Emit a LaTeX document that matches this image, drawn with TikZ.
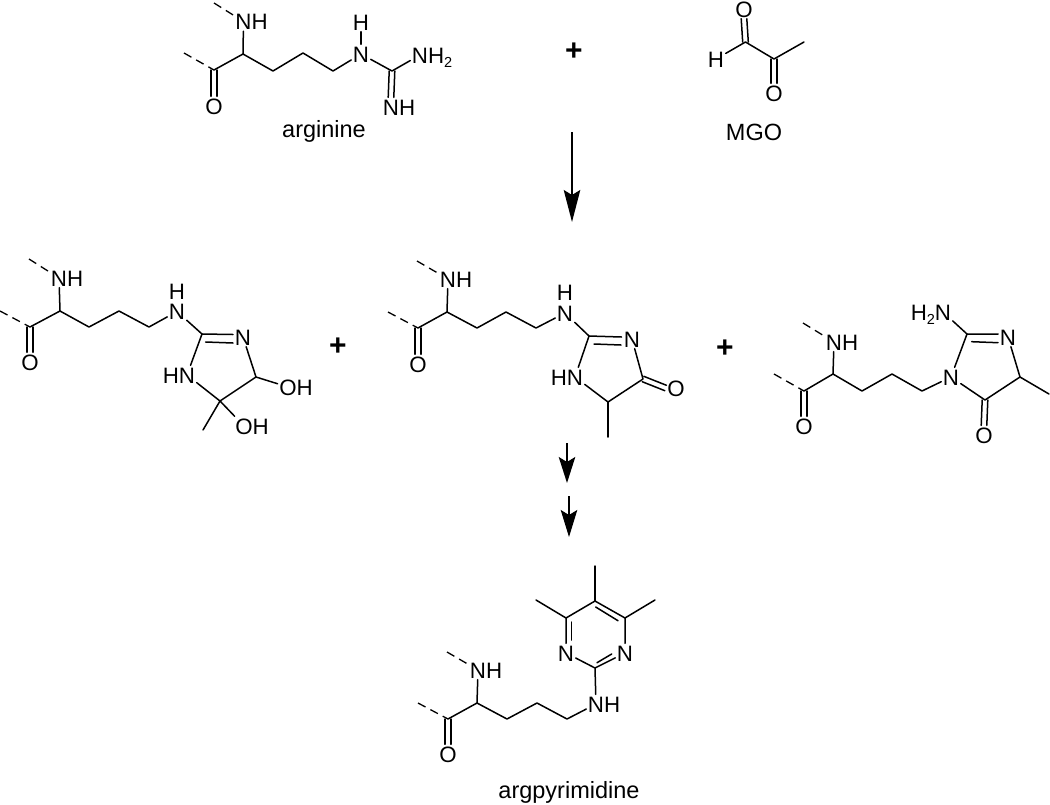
\documentclass[tikz,border=0pt]{standalone}
\usepackage{fontspec}
\setmainfont{Liberation Sans}
\usetikzlibrary{arrows.meta}
\newcommand{\subtwo}{\raisebox{-4.5pt}{\fontsize{14.5}{15}\selectfont 2}}
\tikzset{
  x=1pt,y=-1pt,
  atom/.style={inner sep=1.5pt,font=\fontsize{22.3}{24}\selectfont,text height=16pt,text depth=0pt},
  caption/.style={inner sep=0pt,font=\fontsize{23.5}{26}\selectfont},
  plussign/.style={inner sep=0pt,font=\fontsize{30}{32}\selectfont\bfseries},
  bond/.style={line width=1.5pt,line cap=round,line join=round},
  dashbond/.style={line width=1.3pt,dash pattern=on 8.5pt off 5.5pt},
  rxn/.style={line width=1.6pt,-{Stealth[length=#1,width=16.5pt,inset=5pt]}},
  rxn/.default=32pt
}
\begin{document}
\begin{tikzpicture}
\useasboundingbox (0,0) rectangle (1050,804);
% ---------- arginine
\node[atom] (a1) at (243.5,21.5) {N\rlap{H}};
\coordinate (a0) at (214,3);
\coordinate (aa) at (243,54);
\coordinate (aco) at (214,70);
\node[atom] (ao) at (214,106) {O};
\coordinate (ad) at (184,53);
\coordinate (a2) at (273,71);
\coordinate (a3) at (303,53);
\coordinate (a4) at (333,71);
\node[atom] (an) at (361,54) {N};
\node[atom] (ah) at (361,22) {H};
\coordinate (ag) at (392,71);
\node[atom] (ab) at (420,55) {N\rlap{H\subtwo}};
\node[atom] (ac) at (391,107) {N\rlap{H}};
\draw[dashbond] (a0) -- (a1);
\draw[dashbond] (ad) -- (aco);
\draw[bond] (a1) -- (aa) -- (aco);
\draw[bond] ([shift={(-2.8,0)}]aco) -- ([shift={(-2.8,0)}]ao.north);
\draw[bond] ([shift={(2.8,0)}]aco) -- ([shift={(2.8,0)}]ao.north);
\draw[bond] (aa) -- (a2) -- (a3) -- (a4) -- (an);
\draw[bond] (ah) -- (an);
\draw[bond] (an) -- (ag) -- (ab);
\draw[bond] ([shift={(-2.8,0)}]ag) -- ([shift={(-2.8,0)}]ac.north);
\draw[bond] ([shift={(2.8,0)}]ag) -- ([shift={(2.8,0)}]ac.north);
\node[caption] (argl) at (324,131) {arginine};
\node[plussign] (p0) at (574,52) {+};
% ---------- MGO
\node[atom] (mo1) at (744,9) {O};
\coordinate (mc1) at (745.5,42);
\node[atom] (mh) at (716,59) {H};
\coordinate (mc2) at (774,59);
\node[atom] (mo2) at (774,93) {O};
\coordinate (mc3) at (804,42);
\draw[bond] (mh) -- (mc1) -- (mc2) -- (mc3);
\draw[bond] ([shift={(-2.8,0)}]mc1) -- ([shift={(-2.8,0)}]mo1.south);
\draw[bond] ([shift={(2.8,0)}]mc1) -- ([shift={(2.8,0)}]mo1.south);
\draw[bond] ([shift={(-2.8,0)}]mc2) -- ([shift={(-2.8,0)}]mo2.north);
\draw[bond] ([shift={(2.8,0)}]mc2) -- ([shift={(2.8,0)}]mo2.north);
\node[caption] (mgol) at (754,132) {MGO};
% ---------- arrows
\coordinate (r1s) at (572,132);
\coordinate (r1e) at (572,222);
\draw[rxn] (r1s) -- (r1e);
% ---------- intermediate A
\coordinate (b0) at (29,259);
\node[atom] (b1) at (59,278) {N\rlap{H}};
\coordinate (ba) at (60,311);
\coordinate (bco) at (30,327);
\node[atom] (bo) at (30,362) {O};
\coordinate (bd) at (0,311);
\coordinate (b2) at (89,327);
\coordinate (b3) at (119,311);
\coordinate (b4) at (149,327);
\node[atom] (bn) at (177,311.5) {N};
\node[atom] (bh) at (177,291) {H};
\coordinate (br2) at (202,334);
\node[atom] (br3) at (243,337) {N};
\coordinate (br4) at (256,377);
\coordinate (br5) at (220,401);
\node[atom] (br1) at (187,375) {\llap{H}N};
\node[atom] (bo1) at (288,387) {O\rlap{H}};
\node[atom] (bo2) at (244,426) {O\rlap{H}};
\coordinate (bm) at (203,430);
\draw[dashbond] (b0) -- (b1);
\draw[dashbond] (bd) -- (bco);
\draw[bond] (b1) -- (ba) -- (bco);
\draw[bond] ([shift={(-2.8,0)}]bco) -- ([shift={(-2.8,0)}]bo.north);
\draw[bond] ([shift={(2.8,0)}]bco) -- ([shift={(2.8,0)}]bo.north);
\draw[bond] (ba) -- (b2) -- (b3) -- (b4) -- (bn);
\draw[bond] (bn) -- (br2) -- ([shift={(-10,-2.5)}]br3.center);
\draw[bond] ([shift={(3.7,8)}]br2) -- ([shift={(-10,6)}]br3.center);
\draw[bond] (br3) -- (br4) -- (br5) -- (br1) -- (br2);
\draw[bond] (br4) -- (bo1);
\draw[bond] (br5) -- (bo2);
\draw[bond] (br5) -- (bm);
\node[plussign] (p1) at (338,347) {+};
% ---------- intermediate B
\coordinate (c0) at (417,261);
\node[atom] (c1) at (448,279) {N\rlap{H}};
\coordinate (ca) at (447,312);
\coordinate (cco) at (418,328);
\node[atom] (co) at (418,364) {O};
\coordinate (cd) at (388,312);
\coordinate (c2) at (477,328);
\coordinate (c3) at (506,312);
\coordinate (c4) at (536,328);
\node[atom] (cn) at (565,313) {N};
\node[atom] (ch) at (565,292.5) {H};
\coordinate (cr2) at (589,336);
\node[atom] (cr3) at (632,339) {N};
\coordinate (cr4) at (643,379);
\node[atom] (co1) at (676,388) {O};
\coordinate (cr5) at (608,402);
\node[atom] (cr1) at (575,377) {\llap{H}N};
\coordinate (cm) at (608,437);
\draw[dashbond] (c0) -- (c1);
\draw[dashbond] (cd) -- (cco);
\draw[bond] (c1) -- (ca) -- (cco);
\draw[bond] ([shift={(-2.8,0)}]cco) -- ([shift={(-2.8,0)}]co.north);
\draw[bond] ([shift={(2.8,0)}]cco) -- ([shift={(2.8,0)}]co.north);
\draw[bond] (ca) -- (c2) -- (c3) -- (c4) -- (cn);
\draw[bond] (cn) -- (cr2) -- ([shift={(-10.5,-2)}]cr3.center);
\draw[bond] ([shift={(5,8)}]cr2) -- ([shift={(-11,6)}]cr3.center);
\draw[bond] (cr3) -- (cr4) -- (cr5) -- (cr1) -- (cr2);
\draw[bond] ([shift={(0.8,-2.7)}]cr4) -- ([shift={(0.8,-2.7)}]co1.west);
\draw[bond] ([shift={(-0.8,2.7)}]cr4) -- ([shift={(-0.8,2.7)}]co1.west);
\draw[bond] (cr5) -- (cm);
\node[plussign] (p2) at (725,349) {+};
% ---------- intermediate C
\coordinate (d0) at (803,323);
\node[atom] (d1) at (834,342) {N\rlap{H}};
\coordinate (da) at (833,374);
\coordinate (dco) at (804,391);
\node[atom] (do) at (804,426) {O};
\coordinate (dd) at (774,374);
\coordinate (d2) at (862,391);
\coordinate (d3) at (892,374);
\coordinate (d4) at (922,391);
\node[atom] (dn) at (951,377) {N};
\coordinate (dr2) at (967,334);
\node[atom] (dnh) at (943,312) {\llap{H\subtwo}N};
\node[atom] (dr3) at (1008,337) {N};
\coordinate (dr4) at (1020,377);
\coordinate (dm) at (1049,394);
\coordinate (dr5) at (985,400);
\node[atom] (do1) at (984,435) {O};
\draw[dashbond] (d0) -- (d1);
\draw[dashbond] (dd) -- (dco);
\draw[bond] (d1) -- (da) -- (dco);
\draw[bond] ([shift={(-2.8,0)}]dco) -- ([shift={(-2.8,0)}]do.north);
\draw[bond] ([shift={(2.8,0)}]dco) -- ([shift={(2.8,0)}]do.north);
\draw[bond] (da) -- (d2) -- (d3) -- (d4) -- (dn);
\draw[bond] (dn) -- (dr2) -- ([shift={(-10,-3)}]dr3.center);
\draw[bond] ([shift={(4.7,7.7)}]dr2) -- ([shift={(-10,5.7)}]dr3.center);
\draw[bond] (dnh) -- (dr2);
\draw[bond] (dr3) -- (dr4) -- (dr5) -- (dn);
\draw[bond] (dr4) -- (dm);
\draw[bond] ([shift={(-2.8,0)}]dr5) -- ([shift={(-2.8,0)}]do1.north);
\draw[bond] ([shift={(2.8,0)}]dr5) -- ([shift={(2.8,0)}]do1.north);
% ---------- small arrows
\coordinate (r2s) at (567,443);
\coordinate (r2e) at (567,483);
\coordinate (r3s) at (569,496);
\coordinate (r3e) at (569,537);
\draw[rxn=26pt] (r2s) -- (r2e);
\draw[rxn=27pt] (r3s) -- (r3e);
% ---------- argpyrimidine
\coordinate (e0) at (447,652);
\node[atom] (e1) at (478,670) {N\rlap{H}};
\coordinate (ea) at (477,703);
\coordinate (eco) at (448,719);
\node[atom] (eo) at (448,754) {O};
\coordinate (ed) at (418,703);
\coordinate (e2) at (507,719);
\coordinate (e3) at (537,703);
\coordinate (e4) at (567,719);
\node[atom] (en) at (596,704) {N\rlap{H}};
\coordinate (ep2) at (595,668);
\node[atom] (ep1) at (566,653) {N};
\node[atom] (ep3) at (625,653) {N};
\coordinate (ep6) at (566,618);
\coordinate (ep4) at (625,618);
\coordinate (ep5) at (595,601);
\coordinate (em1) at (536,600);
\coordinate (em2) at (595,566);
\coordinate (em3) at (655,600);
\draw[dashbond] (e0) -- (e1);
\draw[dashbond] (ed) -- (eco);
\draw[bond] (e1) -- (ea) -- (eco);
\draw[bond] ([shift={(-2.8,0)}]eco) -- ([shift={(-2.8,0)}]eo.north);
\draw[bond] ([shift={(2.8,0)}]eco) -- ([shift={(2.8,0)}]eo.north);
\draw[bond] (ea) -- (e2) -- (e3) -- (e4) -- (en);
\draw[bond] (en) -- (ep2) -- (ep1) -- (ep6) -- (ep5) -- (ep4) -- (ep3) -- (ep2);
\draw[bond] ([shift={(5.7,4)}]ep6) -- ([shift={(5.7,-13)}]ep1.center);
\draw[bond] ([shift={(0.7,6)}]ep5) -- ([shift={(-7,2.7)}]ep4);
\draw[bond] ([shift={(2,-5.3)}]ep2) -- ([shift={(-13.3,1)}]ep3.center);
\draw[bond] (ep6) -- (em1);
\draw[bond] (ep5) -- (em2);
\draw[bond] (ep4) -- (em3);
\node[caption] (epl) at (569,792) {argpyrimidine};
\end{tikzpicture}
\end{document}
